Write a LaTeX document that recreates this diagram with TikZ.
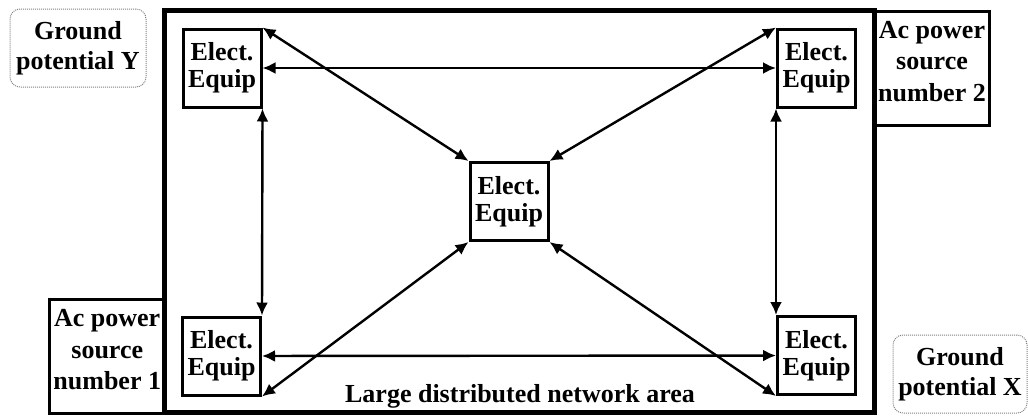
\documentclass[tikz,border=0pt]{standalone}
\usepackage{fontspec}
\setmainfont{Liberation Serif}
\usetikzlibrary{arrows.meta}
\begin{document}
\begin{tikzpicture}[x=1pt,y=-1pt,
  equip/.style={draw,line width=3pt,minimum width=78pt,minimum height=78pt,inner sep=0pt,align=center,font=\fontsize{26}{27}\selectfont\bfseries},
  srcbox/.style={draw,line width=3pt,minimum width=115pt,minimum height=114pt,inner sep=0pt},
  srctext/.style={align=center,inner sep=0pt,font=\fontsize{26}{31.5}\selectfont\bfseries},
  ground/.style={draw=gray,densely dotted,line width=1pt,rounded corners=10pt,minimum width=136pt,minimum height=78pt,inner sep=0pt,align=center,font=\fontsize{26}{30}\selectfont\bfseries},
  link/.style={<->,>={Latex[length=13pt,width=12pt]},line width=2.4pt}]
\useasboundingbox (0,0) rectangle (1028,416);
% power sources, behind the frame
\node[srcbox] (P1) at (107.25,356) {};
\node[srctext] (P1t) at ([yshift=6pt]P1.center) {Ac power\\source\\number 1};
\node[srcbox] (P2) at (932,68.5) {};
\node[srctext] (P2t) at ([yshift=7pt]P2.center) {Ac power\\source\\number 2};
% network area
\node[draw,line width=4.5pt,minimum width=710pt,minimum height=402pt,inner sep=0pt] (area) at (519.5,211.5) {};
\node[font=\fontsize{26}{30}\selectfont\bfseries,anchor=base] (arealbl) at (520,402) {Large distributed network area};
% ground references
\node[ground] (GY) at (78,48) {Ground\\potential Y};
\node[ground,minimum width=134pt] (GX) at (960,374) {Ground\\potential X};
% equipment
\node[equip] (TL) at (222,68) {Elect.\\Equip};
\node[equip] (TR) at (816.5,68) {Elect.\\Equip};
\node[equip] (BL) at (221.5,356) {Elect.\\Equip};
\node[equip] (BR) at (816.5,355.5) {Elect.\\Equip};
\node[equip] (C) at (509,201.5) {Elect.\\Equip};
% links
\draw[link] (TL) -- (TR);
\draw[link] (BL) -- (BR);
\draw[link] (TL.south east) -- (BL.north east);
\draw[link] (TR.south west) -- (BR.north west);
\draw[link] (TL.north east) -- (C.north west);
\draw[link] (TR.north west) -- (C.north east);
\draw[link] (BL.south east) -- (C.south west);
\draw[link] (BR.south west) -- (C.south east);
\end{tikzpicture}
\end{document}
